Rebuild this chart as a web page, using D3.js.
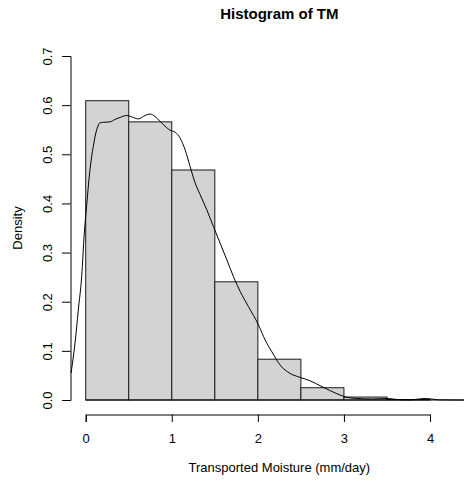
<!DOCTYPE html>
<html>
<head>
<meta charset="utf-8">
<script src="https://cdn.jsdelivr.net/npm/d3@7"></script>
<style>
  body { margin: 0; background: #fff; }
  svg text { font-family: "Liberation Sans", Arial, sans-serif; fill: #000; }
</style>
</head>
<body>
<script>
var width = 464,
    height = 480;

// histogram: breaks of 0.5, density per bin
var breaks = [0, 0.5, 1, 1.5, 2, 2.5, 3, 3.5, 4, 4.5];
var densities = [0.609, 0.566, 0.468, 0.2405, 0.083, 0.025, 0.006, 0.001, 0];

// kernel density curve
var densX = [-0.17, -0.124, -0.086, -0.047, -0.016, 0.012, 0.05, 0.088, 0.128, 0.166, 0.205, 0.283,
  0.341, 0.399, 0.477, 0.535, 0.612, 0.69, 0.748, 0.806, 0.864, 0.942, 0.98, 1.038, 1.097, 1.155,
  1.213, 1.271, 1.329, 1.407, 1.484, 1.562, 1.64, 1.717, 1.794, 1.891, 2.007, 2.085, 2.163, 2.259,
  2.375, 2.492, 2.608, 2.724, 2.841, 2.957, 3.035, 3.12, 3.22, 3.32, 3.42, 3.5, 3.57, 3.65, 3.75,
  3.85, 3.93, 4.02, 4.1, 4.3, 4.7];
var densY = [0.055, 0.116, 0.183, 0.251, 0.34, 0.398, 0.469, 0.516, 0.55, 0.564, 0.565, 0.566,
  0.571, 0.575, 0.579, 0.576, 0.572, 0.579, 0.582, 0.577, 0.567, 0.554, 0.549, 0.545, 0.533, 0.509,
  0.475, 0.442, 0.418, 0.387, 0.353, 0.319, 0.285, 0.251, 0.221, 0.19, 0.153, 0.122, 0.098, 0.071,
  0.054, 0.046, 0.039, 0.029, 0.019, 0.01, 0.0055, 0.0035, 0.0025, 0.002, 0.0025, 0.003, 0.002,
  0.0005, 0.0003, 0.0015, 0.003, 0.002, 0.0004, 0, 0];

var xTicks = [0, 1, 2, 3, 4];
var yTicks = [0, 0.1, 0.2, 0.3, 0.4, 0.5, 0.6, 0.7];

var x = d3.scaleLinear().domain([0, 4]).range([85.7, 430]);
var y = d3.scaleLinear().domain([0, 0.7]).range([400, 56]);

// R plot region: 4% padding on xlim (0..4.5) and ylim (0..0.7)
var plotL = x(-0.18), plotR = x(4.68),
    plotT = y(0.728), plotB = y(-0.028);

var svg = d3.select("body").append("svg")
    .attr("width", width)
    .attr("height", height);

svg.append("defs").append("clipPath").attr("id", "plotclip")
  .append("rect")
    .attr("x", plotL).attr("y", plotT)
    .attr("width", plotR - plotL).attr("height", plotB - plotT);

// bars
var bins = densities.map(function(d, i) { return {x0: breaks[i], x1: breaks[i + 1], d: d}; });
svg.append("g").attr("class", "bars")
  .selectAll("rect").data(bins.filter(function(b) { return b.d > 0; }))
  .enter().append("rect")
    .attr("x", function(b) { return x(b.x0); })
    .attr("y", function(b) { return y(b.d); })
    .attr("width", function(b) { return x(b.x1) - x(b.x0); })
    .attr("height", function(b) { return y(0) - y(b.d); })
    .attr("fill", "#d3d3d3")
    .attr("stroke", "#1a1a1a")
    .attr("stroke-width", 1);

// baseline under the bars / density tail
svg.append("line")
    .attr("x1", x(0)).attr("x2", plotR)
    .attr("y1", y(0)).attr("y2", y(0))
    .attr("stroke", "#000");

// density line
var line = d3.line()
    .x(function(d) { return x(d[0]); })
    .y(function(d) { return y(d[1]); })
    .curve(d3.curveMonotoneX);

svg.append("path")
    .datum(d3.zip(densX, densY))
    .attr("clip-path", "url(#plotclip)")
    .attr("d", line)
    .attr("fill", "none")
    .attr("stroke", "#000")
    .attr("stroke-width", 1);

// axes
var xAxis = svg.append("g")
    .attr("transform", "translate(0," + Math.round(plotB) + ".5)")
    .call(d3.axisBottom(x).tickValues(xTicks).tickSizeOuter(0).tickSize(7.5).tickPadding(12)
      .tickFormat(d3.format("d")));

var yAxis = svg.append("g")
    .attr("transform", "translate(" + Math.round(plotL) + ".5,0)")
    .call(d3.axisLeft(y).tickValues(yTicks).tickSizeOuter(0).tickSize(8.5)
      .tickFormat(d3.format(".1f")));

[xAxis, yAxis].forEach(function(a) {
  a.selectAll("path, line").attr("stroke", "#000");
  a.selectAll("text").style("font-size", "13px").attr("fill", "#000");
});

yAxis.selectAll(".tick text")
    .attr("transform", "rotate(-90)")
    .attr("x", 0)
    .attr("y", -19)
    .attr("dy", 0)
    .attr("text-anchor", "middle");

// titles
var cx = (plotL + plotR) / 2;
svg.append("text")
    .attr("x", cx).attr("y", 18.5)
    .attr("text-anchor", "middle")
    .style("font-size", "15px")
    .style("font-weight", "bold")
    .text("Histogram of TM");

svg.append("text")
    .attr("x", cx).attr("y", 472)
    .attr("text-anchor", "middle")
    .style("font-size", "13px")
    .text("Transported Moisture (mm/day)");

svg.append("text")
    .attr("transform", "translate(22," + ((plotT + plotB) / 2) + ") rotate(-90)")
    .attr("text-anchor", "middle")
    .style("font-size", "13px")
    .text("Density");
</script>
</body>
</html>
